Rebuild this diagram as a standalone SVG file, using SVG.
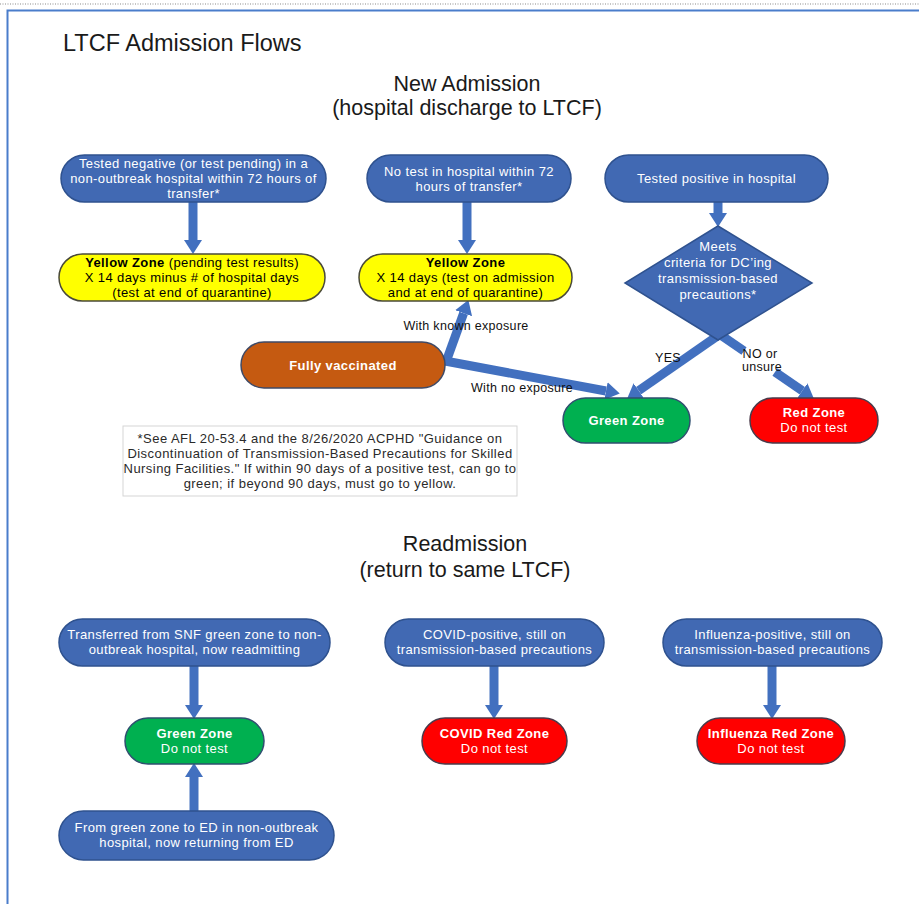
<svg xmlns="http://www.w3.org/2000/svg" width="919" height="904" viewBox="0 0 919 904">
<defs>
<marker id="ah" markerUnits="userSpaceOnUse" markerWidth="14" markerHeight="18" refX="0" refY="9" orient="auto" viewBox="0 0 14 18"><path d="M0,0 L14,9 L0,18 z" fill="#4270BF"/></marker>
<style>
text{font-family:"Liberation Sans",Arial,sans-serif;}
.h{font-size:21.5px;fill:#1a1a1a;text-anchor:middle}
.n{font-size:13px;fill:#fff;text-anchor:middle;letter-spacing:0.4px}
.k{font-size:13px;fill:#000;text-anchor:middle;letter-spacing:0.4px}
.f{font-size:13px;fill:#2a2a2a;text-anchor:middle;letter-spacing:0.45px}
.b{font-weight:bold}
.lbl{font-size:12.5px;fill:#111;text-anchor:middle;letter-spacing:0.3px}
.blue{fill:#4169B3;stroke:#2F528F;stroke-width:1.5}
.yellow{fill:#FFFF00;stroke:#4A4A3A;stroke-width:1.5}
.green{fill:#00B050;stroke:#2F4F6F;stroke-width:1.5}
.red{fill:#FF0000;stroke:#4A3A4A;stroke-width:1.5}
.orange{fill:#C55A11;stroke:#3F4A66;stroke-width:1.5}
.c{fill:none;stroke:#4270BF;stroke-width:9}
.ca{fill:none;stroke:#4270BF;stroke-width:9;marker-end:url(#ah)}
</style>
</defs>
<rect x="0" y="0" width="919" height="904" fill="#fff"/>
<line x1="0" y1="4" x2="919" y2="4" stroke="#8a8a8a" stroke-width="1" stroke-dasharray="1 1.5"/>
<path d="M7.5,904 V10.5 H919" fill="none" stroke="#4A7DCB" stroke-width="2"/>

<text x="63" y="51" style="font-size:23.5px;fill:#1a1a1a">LTCF Admission Flows</text>
<text class="h" x="467" y="91">New Admission</text>
<text class="h" x="467" y="115">(hospital discharge to LTCF)</text>
<text class="h" x="465" y="551">Readmission</text>
<text class="h" x="465" y="577">(return to same LTCF)</text>

<g id="connectors">
<line class="ca" x1="193" y1="202" x2="193" y2="240"/>
<line class="ca" x1="467" y1="202" x2="467" y2="240"/>
<line class="ca" x1="718" y1="202" x2="718" y2="213"/>
<line class="ca" x1="446" y1="362" x2="463.6" y2="313.2"/>
<line class="ca" x1="445" y1="361" x2="606" y2="391"/>
<line class="ca" x1="752" y1="312" x2="638.7" y2="390.6"/>
<line class="c" x1="690" y1="314" x2="744" y2="351"/>
<line class="ca" x1="775" y1="372" x2="802.3" y2="390.7"/>
<line class="ca" x1="194" y1="666" x2="194" y2="705"/>
<line class="ca" x1="194" y1="811" x2="194" y2="777"/>
<line class="ca" x1="494" y1="666" x2="494" y2="705"/>
<line class="ca" x1="772" y1="666" x2="772" y2="705"/>
<text class="lbl" x="466" y="330">With known exposure</text>
<text class="lbl" x="522" y="392">With no exposure</text>
<text class="lbl" x="668" y="362">YES</text>
<text class="lbl" x="760" y="358">NO or</text>
<text class="lbl" x="762" y="371">unsure</text>
</g>

<g id="n1">
<rect class="blue" x="61" y="155" width="265" height="47" rx="23.5"/>
<text class="n" x="193.5" y="168">Tested negative (or test pending) in a</text>
<text class="n" x="193.5" y="183">non-outbreak hospital within 72 hours of</text>
<text class="n" x="193.5" y="198">transfer*</text>
</g>
<g id="y1">
<rect class="yellow" x="59" y="254" width="266" height="47" rx="23.5"/>
<text class="k" x="192" y="267"><tspan class="b">Yellow Zone</tspan> (pending test results)</text>
<text class="k" x="192" y="282">X 14 days minus # of hospital days</text>
<text class="k" x="192" y="297">(test at end of quarantine)</text>
</g>
<g id="n2">
<rect class="blue" x="367" y="155" width="204" height="47" rx="23.5"/>
<text class="n" x="469" y="175.5">No test in hospital within 72</text>
<text class="n" x="469" y="190.5">hours of transfer*</text>
</g>
<g id="y2">
<rect class="yellow" x="359" y="254" width="213" height="47" rx="23.5"/>
<text class="k b" x="465.5" y="267">Yellow Zone</text>
<text class="k" x="465.5" y="282">X 14 days (test on admission</text>
<text class="k" x="465.5" y="297">and at end of quarantine)</text>
</g>
<g id="n3">
<rect class="blue" x="605" y="155" width="223" height="47" rx="23.5"/>
<text class="n" x="716.5" y="183">Tested positive in hospital</text>
</g>
<g id="diamond">
<polygon class="blue" points="718,226 812,283 718,340 625,283"/>
<text class="n" x="718" y="251">Meets</text>
<text class="n" x="718" y="267">criteria for DC’ing</text>
<text class="n" x="718" y="283">transmission-based</text>
<text class="n" x="718" y="299">precautions*</text>
</g>
<g id="vaccinated">
<rect class="orange" x="241" y="342" width="204" height="46" rx="23"/>
<text class="n b" x="343" y="369.5">Fully vaccinated</text>
</g>
<g id="green1">
<rect class="green" x="563" y="398" width="127" height="45" rx="22.5"/>
<text class="n b" x="626.5" y="425">Green Zone</text>
</g>
<g id="red1">
<rect class="red" x="750" y="398" width="128" height="45" rx="22.5"/>
<text class="n b" x="814" y="417">Red Zone</text>
<text class="n" x="814" y="432">Do not test</text>
</g>
<g id="footnote">
<rect x="123" y="426" width="394" height="70" fill="#fff" stroke="#D5D5D5" stroke-width="1"/>
<text class="f" x="320" y="443">*See AFL 20-53.4 and the 8/26/2020 ACPHD "Guidance on</text>
<text class="f" x="320" y="458">Discontinuation of Transmission-Based Precautions for Skilled</text>
<text class="f" x="320" y="473">Nursing Facilities." If within 90 days of a positive test, can go to</text>
<text class="f" x="320" y="488">green; if beyond 90 days, must go to yellow.</text>
</g>

<g id="ra">
<rect class="blue" x="59" y="619" width="271" height="47" rx="23.5"/>
<text class="n" x="194.5" y="639">Transferred from SNF green zone to non-</text>
<text class="n" x="194.5" y="654">outbreak hospital, now readmitting</text>
</g>
<g id="green2">
<rect class="green" x="125" y="718" width="139" height="46" rx="23"/>
<text class="n b" x="194.5" y="738">Green Zone</text>
<text class="n" x="194.5" y="753">Do not test</text>
</g>
<g id="rc">
<rect class="blue" x="59" y="811" width="275" height="49" rx="24.5"/>
<text class="n" x="196.5" y="832">From green zone to ED in non-outbreak</text>
<text class="n" x="196.5" y="847">hospital, now returning from ED</text>
</g>
<g id="rd">
<rect class="blue" x="385" y="619" width="219" height="47" rx="23.5"/>
<text class="n" x="494.5" y="639">COVID-positive, still on</text>
<text class="n" x="494.5" y="654">transmission-based precautions</text>
</g>
<g id="covidred">
<rect class="red" x="422" y="718" width="145" height="46" rx="23"/>
<text class="n b" x="494.5" y="738">COVID Red Zone</text>
<text class="n" x="494.5" y="753">Do not test</text>
</g>
<g id="re">
<rect class="blue" x="663" y="619" width="219" height="47" rx="23.5"/>
<text class="n" x="772.5" y="639">Influenza-positive, still on</text>
<text class="n" x="772.5" y="654">transmission-based precautions</text>
</g>
<g id="flured">
<rect class="red" x="697" y="718" width="148" height="46" rx="23"/>
<text class="n b" x="771" y="738">Influenza Red Zone</text>
<text class="n" x="771" y="753">Do not test</text>
</g>
</svg>
